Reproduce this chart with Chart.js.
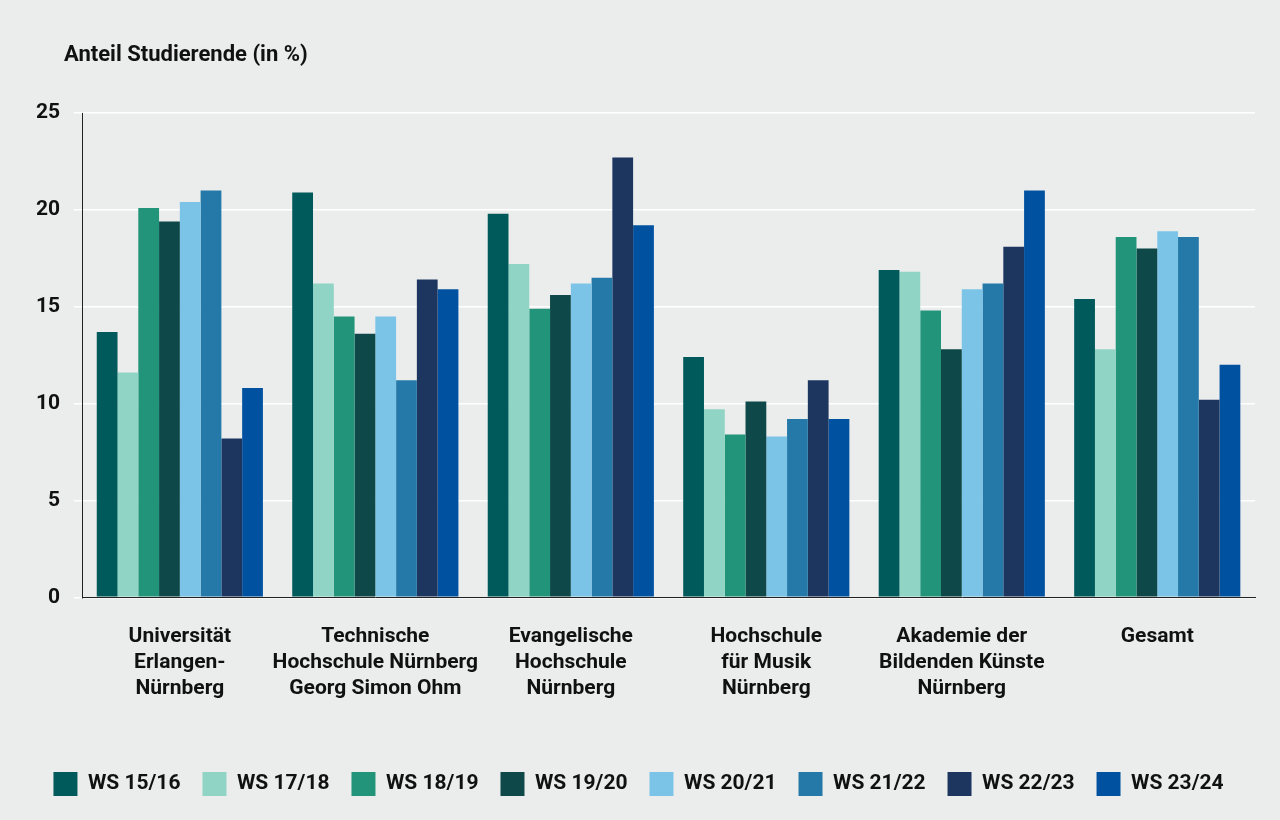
<!DOCTYPE html>
<html><head><meta charset="utf-8">
<script src="https://cdn.jsdelivr.net/npm/chart.js@4"></script>
<style>html,body{margin:0;background:#ebedec}#w{width:1280px;height:820px}</style>
</head><body><div id="w"><canvas id="c"></canvas></div>
<script>
const categories=[["Universität","Erlangen-","Nürnberg"],["Technische","Hochschule Nürnberg","Georg Simon Ohm"],["Evangelische","Hochschule","Nürnberg"],["Hochschule","für Musik","Nürnberg"],["Akademie der","Bildenden Künste","Nürnberg"],["Gesamt"]];
const seriesNames=["WS 15/16","WS 17/18","WS 18/19","WS 19/20","WS 20/21","WS 21/22","WS 22/23","WS 23/24"];
const colors=["#005a5b","#8fd4c5","#229479","#0e4848","#7bc4e8","#2479a8","#1c3660","#0052a0"];
const ws1516=[13.7,20.9,19.8,12.4,16.9,15.4];
const ws1718=[11.6,16.2,17.2,9.7,16.8,12.8];
const ws1819=[20.1,14.5,14.9,8.4,14.8,18.6];
const ws1920=[19.4,13.6,15.6,10.1,12.8,18.0];
const ws2021=[20.4,14.5,16.2,8.3,15.9,18.9];
const ws2122=[21.0,11.2,16.5,9.2,16.2,18.6];
const ws2223=[8.2,16.4,22.7,11.2,18.1,10.2];
const ws2324=[10.8,15.9,19.2,9.2,21.0,12.0];
const values=[ws1516,ws1718,ws1819,ws1920,ws2021,ws2122,ws2223,ws2324];
const yTicks=[0,5,10,15,20,25];
const F="Roboto,'Liberation Sans',sans-serif";
Chart.defaults.font.family=F;Chart.defaults.font.weight='bold';Chart.defaults.color='#111';
new Chart(document.getElementById('c'),{type:'bar',
data:{labels:categories,datasets:seriesNames.map((n,i)=>({label:n,data:values[i],backgroundColor:colors[i],categoryPercentage:0.85,barPercentage:1}))},
options:{responsive:true,maintainAspectRatio:false,animation:false,
layout:{padding:{top:113,left:22,right:25,bottom:14}},
plugins:{legend:{position:'bottom',labels:{boxWidth:24,boxHeight:24,padding:22,font:{size:21,weight:'bold'},color:'#111'}},tooltip:{enabled:false}},
scales:{x:{afterFit:s=>{s.height+=30},grid:{display:false},border:{color:'#222'},ticks:{padding:18,font:{size:21,weight:'bold',lineHeight:1.25},color:'#111',maxRotation:0,autoSkip:false}},
y:{min:0,max:25,afterBuildTicks:a=>{a.ticks=yTicks.map(v=>({value:v}))},grid:{color:'#ffffff',lineWidth:1.5},border:{color:'#222'},ticks:{font:{size:21,weight:'bold'},color:'#111',padding:14}}}},
plugins:[{id:'t',afterDraw(ch){const c=ch.ctx;c.save();c.font="bold 22px "+F;c.fillStyle='#111';c.textBaseline='middle';c.fillText('Anteil Studierende (in %)',64,55);c.restore();}}]
});
</script></body></html>
